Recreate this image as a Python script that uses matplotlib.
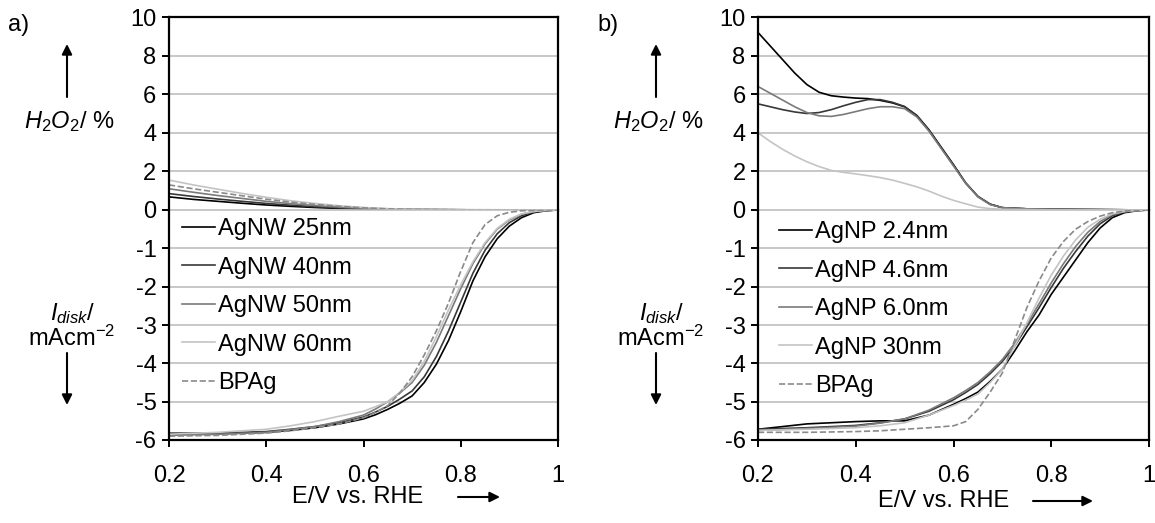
import matplotlib
matplotlib.use("Agg")
import matplotlib.pyplot as plt

plt.rcParams['font.family'] = ['Liberation Sans', 'DejaVu Sans']
plt.rcParams['mathtext.fontset'] = 'custom'
plt.rcParams['mathtext.rm'] = 'Liberation Sans'
plt.rcParams['mathtext.it'] = 'Liberation Sans:italic'
plt.rcParams['axes.unicode_minus'] = False

W, H = 1155, 523
FS = 17

# ---------------- data ----------------
# H2O2 yield (%) vs potential
e_h2o2_a = [0.2, 0.25, 0.3, 0.35, 0.4, 0.45, 0.5, 0.55, 0.6, 0.65, 0.7, 0.8, 0.9, 1.0]
h2o2_nw25 = [0.68, 0.55, 0.45, 0.35, 0.26, 0.19, 0.13, 0.08, 0.05, 0.03, 0.02, 0.01, 0.0, 0.0]
h2o2_nw40 = [0.85, 0.70, 0.57, 0.45, 0.34, 0.25, 0.17, 0.11, 0.07, 0.04, 0.02, 0.01, 0.0, 0.0]
h2o2_nw50 = [1.10, 0.92, 0.75, 0.60, 0.45, 0.33, 0.23, 0.15, 0.09, 0.05, 0.03, 0.01, 0.0, 0.0]
h2o2_nw60 = [1.55, 1.30, 1.08, 0.86, 0.66, 0.48, 0.34, 0.22, 0.13, 0.07, 0.04, 0.02, 0.01, 0.0]
h2o2_bpag_a = [1.30, 1.10, 0.92, 0.74, 0.56, 0.41, 0.29, 0.19, 0.11, 0.06, 0.03, 0.01, 0.0, 0.0]

e_h2o2_b = [0.2, 0.225, 0.25, 0.275, 0.3, 0.325, 0.35, 0.375, 0.4, 0.425, 0.45, 0.475,
            0.5, 0.525, 0.55, 0.575, 0.6, 0.625, 0.65, 0.675, 0.7, 0.75, 0.8, 0.9, 1.0]
h2o2_np24 = [9.2, 8.5, 7.8, 7.1, 6.5, 6.1, 5.92, 5.85, 5.8, 5.77, 5.68, 5.55,
             5.35, 4.9, 4.15, 3.25, 2.35, 1.4, 0.7, 0.3, 0.12, 0.06, 0.04, 0.02, 0.0]
h2o2_np46 = [5.5, 5.35, 5.2, 5.08, 5.0, 5.05, 5.2, 5.4, 5.58, 5.72, 5.72, 5.58,
             5.36, 4.88, 4.12, 3.22, 2.32, 1.4, 0.7, 0.3, 0.12, 0.06, 0.04, 0.02, 0.0]
h2o2_np60 = [6.4, 6.05, 5.7, 5.35, 5.05, 4.88, 4.85, 4.95, 5.1, 5.25, 5.35, 5.35,
             5.25, 4.82, 4.08, 3.18, 2.28, 1.38, 0.68, 0.28, 0.12, 0.06, 0.04, 0.02, 0.0]
h2o2_np30 = [4.0, 3.55, 3.15, 2.8, 2.5, 2.25, 2.05, 1.95, 1.87, 1.78, 1.68, 1.55,
             1.38, 1.2, 0.98, 0.72, 0.5, 0.32, 0.15, 0.07, 0.04, 0.02, 0.01, 0.0, 0.0]

# disk current (mA cm^-2) vs potential
e_disk = [0.2, 0.3, 0.4, 0.45, 0.5, 0.55, 0.6, 0.625, 0.65, 0.675, 0.7, 0.725, 0.75, 0.775, 0.8,
          0.825, 0.85, 0.875, 0.9, 0.925, 0.95, 0.975, 1.0]
disk_nw25 = [-5.85, -5.84, -5.80, -5.75, -5.68, -5.58, -5.45, -5.34, -5.20, -5.04, -4.85, -4.50,
             -4.02, -3.40, -2.65, -1.85, -1.22, -0.75, -0.42, -0.20, -0.07, -0.02, 0.0]
disk_nw40 = [-5.82, -5.82, -5.78, -5.72, -5.65, -5.55, -5.40, -5.27, -5.12, -4.93, -4.72, -4.35,
             -3.82, -3.15, -2.40, -1.65, -1.05, -0.62, -0.33, -0.15, -0.05, -0.01, 0.0]
disk_nw50 = [-5.88, -5.85, -5.80, -5.73, -5.65, -5.52, -5.35, -5.19, -5.00, -4.77, -4.50, -4.05,
             -3.45, -2.75, -2.05, -1.40, -0.88, -0.50, -0.26, -0.11, -0.04, -0.01, 0.0]
disk_nw60 = [-5.85, -5.80, -5.72, -5.63, -5.52, -5.38, -5.25, -5.13, -5.00, -4.75, -4.45, -3.95,
             -3.30, -2.60, -1.95, -1.35, -0.85, -0.48, -0.24, -0.10, -0.04, -0.01, 0.0]
disk_bpag_a = [-5.90, -5.88, -5.82, -5.76, -5.68, -5.58, -5.42, -5.28, -5.10, -4.77, -4.35, -3.78,
               -3.15, -2.42, -1.60, -0.85, -0.38, -0.15, -0.06, -0.02, -0.01, 0.0, 0.0]

disk_np24 = [-5.72, -5.58, -5.52, -5.50, -5.50, -5.35, -5.07, -4.92, -4.75, -4.47, -4.15, -3.68,
             -3.18, -2.74, -2.20, -1.75, -1.30, -0.85, -0.47, -0.20, -0.07, -0.02, 0.0]
disk_np46 = [-5.72, -5.68, -5.62, -5.55, -5.45, -5.25, -4.95, -4.76, -4.55, -4.27, -3.95, -3.55,
             -3.05, -2.55, -2.02, -1.52, -1.08, -0.68, -0.36, -0.15, -0.05, -0.01, 0.0]
disk_np60 = [-5.75, -5.70, -5.64, -5.56, -5.45, -5.22, -4.90, -4.71, -4.50, -4.22, -3.90, -3.48,
             -2.98, -2.45, -1.90, -1.40, -0.95, -0.58, -0.30, -0.12, -0.04, -0.01, 0.0]
disk_np30 = [-5.75, -5.72, -5.68, -5.63, -5.55, -5.35, -5.10, -4.96, -4.80, -4.50, -4.15, -3.55,
             -2.95, -2.30, -1.70, -1.20, -0.78, -0.45, -0.24, -0.10, -0.04, -0.01, 0.0]
disk_bpag_b = [-5.80, -5.80, -5.78, -5.76, -5.72, -5.68, -5.63, -5.52, -5.20, -4.75, -4.25, -3.40,
               -2.55, -1.85, -1.25, -0.82, -0.50, -0.30, -0.16, -0.07, -0.03, -0.01, 0.0]

labels_a = ['AgNW 25nm', 'AgNW 40nm', 'AgNW 50nm', 'AgNW 60nm', 'BPAg']
labels_b = ['AgNP 2.4nm', 'AgNP 4.6nm', 'AgNP 6.0nm', 'AgNP 30nm', 'BPAg']
colors = ['#000000', '#383838', '#7a7a7a', '#c4c4c4', '#8a8a8a']
styles = ['-', '-', '-', '-', '--']

x_ticks = [0.2, 0.4, 0.6, 0.8, 1.0]
x_ticklabels = ['0.2', '0.4', '0.6', '0.8', '1']


def fx(px):
    return px / W


def fy(py):
    return 1 - py / H


def make_panel(fig, left_px, right_px, top_series, bot_series, labels, leg_px):
    top_px, zero_px, bot_px = 17, 210, 440
    left, width = fx(left_px), fx(right_px) - fx(left_px)
    ax_t = fig.add_axes([left, fy(zero_px), width, fy(top_px) - fy(zero_px)])
    ax_b = fig.add_axes([left, fy(bot_px), width, fy(zero_px) - fy(bot_px)])

    for ax in (ax_t, ax_b):
        ax.set_xlim(0.2, 1.0)
        ax.set_axisbelow(True)
        ax.grid(axis='y', color='#bfbfbf', lw=1.2)
        for s in ax.spines.values():
            s.set_linewidth(1.6)
        ax.tick_params(axis='y', direction='out', length=5, width=1.4, pad=4, labelsize=FS)
        ax.tick_params(axis='x', direction='out', length=5, width=1.4, pad=13, labelsize=FS)

    ax_t.set_ylim(0, 10)
    ax_t.set_yticks([2, 4, 6, 8, 10])
    ax_t.spines['bottom'].set_visible(False)
    ax_t.tick_params(axis='x', bottom=False, labelbottom=False)

    ax_b.set_ylim(-6, 0)
    ax_b.set_yticks([-6, -5, -4, -3, -2, -1, 0])
    ax_b.set_yticklabels(['-6', '-5', '-4', '-3', '-2', '-1', '0'])
    ax_b.spines['top'].set_visible(False)
    ax_b.set_xticks(x_ticks)
    ax_b.set_xticklabels(x_ticklabels)
    for gl in ax_b.get_ygridlines():
        gl.set_clip_on(False)

    for (ex, ys), c, ls in zip(top_series, colors, styles):
        ax_t.plot(ex, ys, color=c, ls=ls, lw=1.2, clip_on=False)
    handles = []
    for (ex, ys), c, ls, lab in zip(bot_series, colors, styles, labels):
        h, = ax_b.plot(ex, ys, color=c, ls=ls, lw=1.2, label=lab)
        handles.append(h)

    ax_b.legend(handles=handles, loc='upper left',
                bbox_to_anchor=(fx(leg_px[0]), fy(leg_px[1])),
                bbox_transform=fig.transFigure, frameon=False, fontsize=FS,
                handlelength=1.4, handletextpad=0.12, labelspacing=0.70,
                borderpad=0, borderaxespad=0)
    return ax_t, ax_b


def side_labels(fig, dx, tag):
    fig.text(fx(8 + dx), fy(25), tag, fontsize=FS, ha='left', va='center')
    fig.text(fx(69 + dx), fy(122), '$H_2O_2$/ %', fontsize=FS, ha='center', va='center')
    fig.text(fx(73 + dx), fy(314), '$I_{disk}$/', fontsize=FS, ha='center', va='center')
    fig.text(fx(72 + dx), fy(338), 'mAcm$^{-2}$', fontsize=FS, ha='center', va='center')
    arrow = dict(arrowstyle='-|>', color='black', lw=1.5, mutation_scale=15, shrinkA=0, shrinkB=0)
    fig.add_artist(plt.Annotation('', xy=(fx(67 + dx), fy(44)), xytext=(fx(67 + dx), fy(97)),
                                  xycoords='figure fraction', arrowprops=arrow))
    fig.add_artist(plt.Annotation('', xy=(fx(67 + dx), fy(405)), xytext=(fx(67 + dx), fy(353)),
                                  xycoords='figure fraction', arrowprops=arrow))


def x_label(fig, cx, cy, a0, a1):
    fig.text(fx(cx), fy(cy), 'E/V vs. RHE', fontsize=FS, ha='center', va='center')
    arrow = dict(arrowstyle='-|>', color='black', lw=1.5, mutation_scale=15, shrinkA=0, shrinkB=0)
    fig.add_artist(plt.Annotation('', xy=(fx(a1), fy(cy)), xytext=(fx(a0), fy(cy)),
                                  xycoords='figure fraction', arrowprops=arrow))


def main():
    fig = plt.figure(figsize=(W / 100, H / 100), dpi=100)

    top_a = [(e_h2o2_a, h2o2_nw25), (e_h2o2_a, h2o2_nw40), (e_h2o2_a, h2o2_nw50),
             (e_h2o2_a, h2o2_nw60), (e_h2o2_a, h2o2_bpag_a)]
    bot_a = [(e_disk, disk_nw25), (e_disk, disk_nw40), (e_disk, disk_nw50),
             (e_disk, disk_nw60), (e_disk, disk_bpag_a)]
    make_panel(fig, 169, 558, top_a, bot_a, labels_a, (182, 218))

    top_b = [(e_h2o2_b, h2o2_np24), (e_h2o2_b, h2o2_np46), (e_h2o2_b, h2o2_np60),
             (e_h2o2_b, h2o2_np30)]
    bot_b = [(e_disk, disk_np24), (e_disk, disk_np46), (e_disk, disk_np60),
             (e_disk, disk_np30), (e_disk, disk_bpag_b)]
    make_panel(fig, 758, 1149, top_b, bot_b, labels_b, (779, 221))

    side_labels(fig, 0, 'a)')
    side_labels(fig, 589, 'b)')
    x_label(fig, 358, 497, 458, 500)
    x_label(fig, 944, 501, 1033, 1093)

    fig.savefig('out.png', dpi=100)


if __name__ == '__main__':
    main()
